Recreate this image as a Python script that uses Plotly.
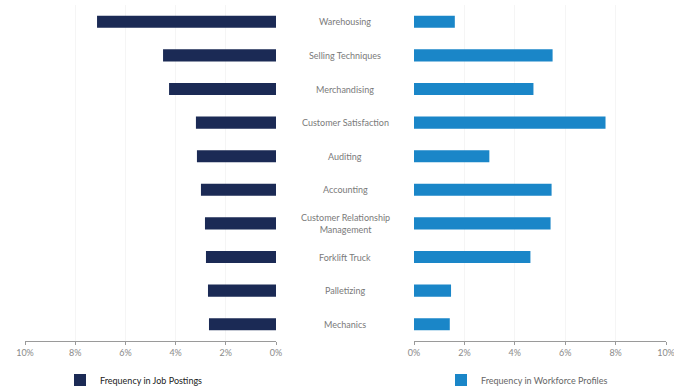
import plotly.graph_objects as go

categories = ["Warehousing", "Selling Techniques", "Merchandising", "Customer Satisfaction",
              "Auditing", "Accounting", "Customer Relationship Management", "Forklift Truck",
              "Palletizing", "Mechanics"]
label_text = ["Warehousing", "Selling Techniques", "Merchandising", "Customer Satisfaction",
              "Auditing", "Accounting", "Customer Relationship<br>Management", "Forklift Truck",
              "Palletizing", "Mechanics"]
job_postings = [7.13, 4.5, 4.26, 3.19, 3.15, 2.99, 2.83, 2.79, 2.71, 2.67]
workforce_profiles = [1.62, 5.5, 4.74, 7.6, 2.99, 5.46, 5.42, 4.62, 1.47, 1.42]
tick_vals = [0, 2, 4, 6, 8, 10]
tick_text = ["0%", "2%", "4%", "6%", "8%", "10%"]

W, H = 674, 392
navy = "#1b2a55"
blue = "#1a86c8"
gray = "#8a8a8a"

fig = go.Figure()
fig.add_trace(go.Bar(y=categories, x=job_postings, orientation="h", xaxis="x", yaxis="y",
                     marker=dict(color=navy, line=dict(width=0)), width=0.36,
                     name="Frequency in Job Postings", legend="legend"))
fig.add_trace(go.Bar(y=categories, x=workforce_profiles, orientation="h", xaxis="x2", yaxis="y",
                     marker=dict(color=blue, line=dict(width=0)), width=0.36,
                     name="Frequency in Workforce Profiles", legend="legend2"))

axis_common = dict(tickvals=tick_vals, ticktext=tick_text, showline=True, linecolor="#9a9a9a",
                   linewidth=1, ticks="outside", ticklen=3, tickcolor="#9a9a9a",
                   tickfont=dict(size=9, color=gray, family="Lato"), showgrid=True,
                   gridcolor="#f5f5f5", gridwidth=1, zeroline=False, fixedrange=True,
                   automargin=False, ticklabeloverflow="allow")

fig.update_layout(
    width=W, height=H,
    margin=dict(l=0, r=0, t=5, b=51, autoexpand=False),
    paper_bgcolor="white", plot_bgcolor="white",
    font=dict(family="Lato", color=gray),
    barmode="overlay",
    xaxis=dict(domain=[25 / W, 276 / W], range=[10, 0], anchor="y", **axis_common),
    xaxis2=dict(domain=[414 / W, 666 / W], range=[0, 10], anchor="y", **axis_common),
    yaxis=dict(categoryorder="array", categoryarray=categories, range=[9.5, -0.5],
               showticklabels=False, showline=False, showgrid=False, zeroline=False,
               ticks="", fixedrange=True, automargin=False),
    legend=dict(xref="container", yref="container", x=60 / W, y=1 - 380 / H,
                xanchor="left", yanchor="middle", orientation="h",
                font=dict(size=9, color="#222222", family="Lato"), bgcolor="rgba(0,0,0,0)",
                itemwidth=30),
    legend2=dict(xref="container", yref="container", x=441 / W, y=1 - 380 / H,
                 xanchor="left", yanchor="middle", orientation="h",
                 font=dict(size=9, color="#666666", family="Lato"), bgcolor="rgba(0,0,0,0)",
                 itemwidth=30),
    showlegend=True,
)

for cat, txt in zip(categories, label_text):
    fig.add_annotation(x=345 / W, xref="paper", y=cat, yref="y", text=txt, showarrow=False,
                       xanchor="center", yanchor="middle", align="center",
                       font=dict(size=9, color="#7a7a7a", family="Lato"))

fig.write_html("out.html")
